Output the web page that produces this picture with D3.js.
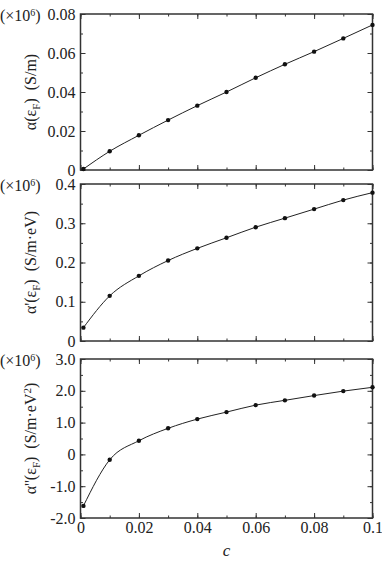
<!DOCTYPE html>
<html>
<head>
<meta charset="utf-8">
<script src="https://cdn.jsdelivr.net/npm/d3@7"></script>
<style>
  body { margin: 0; background: #fff; }
  svg { display: block; }
  svg text { font-family: "Liberation Serif", "Times New Roman", Times, serif; fill: #222; }
</style>
</head>
<body>
<div id="chart"></div>
<script>
const WIDTH = 382;
const HEIGHT = 563;
const SERIF = "'Liberation Serif', 'Times New Roman', Times, serif";

// data
const cValues = [0.001, 0.01, 0.02, 0.03, 0.04, 0.05, 0.06, 0.07, 0.08, 0.09, 0.1];
const alphaVals  = [0.0005, 0.0096, 0.0178, 0.0256, 0.033, 0.040, 0.0473, 0.0542, 0.0607, 0.0675, 0.0744];
const alpha1Vals = [0.034, 0.115, 0.166, 0.205, 0.236, 0.263, 0.290, 0.313, 0.336, 0.359, 0.378];
const alpha2Vals = [-1.62, -0.17, 0.43, 0.82, 1.11, 1.33, 1.55, 1.70, 1.85, 1.99, 2.11];

const xTicks = [0, 0.02, 0.04, 0.06, 0.08, 0.1];
const xTickLabels = ["0", "0.02", "0.04", "0.06", "0.08", "0.1"];
const y1Ticks = [0, 0.02, 0.04, 0.06, 0.08];
const y1TickLabels = ["0", "0.02", "0.04", "0.06", "0.08"];
const y2Ticks = [0, 0.1, 0.2, 0.3, 0.4];
const y2TickLabels = ["0", "0.1", "0.2", "0.3", "0.4"];
const y3Ticks = [-2, -1, 0, 1, 2, 3];
const y3TickLabels = ["-2.0", "-1.0", "0", "1.0", "2.0", "3.0"];

const LEFT = 80.5, RIGHT = 372.5;
const MAJOR = 5, MINOR = 2.5;
const SP = "\u00a0\u00a0";

const svg = d3.select("#chart")
    .append("svg")
    .attr("width", WIDTH)
    .attr("height", HEIGHT);

const x = d3.scaleLinear().domain([0, 0.1]).range([LEFT, RIGHT]);

const panels = [
  { top: 14,  bottom: 170, domain: [0, 0.08], ticks: y1Ticks, labels: y1TickLabels, minor: 0.01, values: alphaVals,
    label: [["α(ε"], ["F", "sub"], [")" + SP + "(S/m)"]] },
  { top: 184, bottom: 341, domain: [0, 0.4], ticks: y2Ticks, labels: y2TickLabels, minor: 0.05, values: alpha1Vals,
    label: [["α'(ε"], ["F", "sub"], [")" + SP + "(S/m·eV)"]] },
  { top: 359, bottom: 518, domain: [-2, 3], ticks: y3Ticks, labels: y3TickLabels, minor: 0.5, values: alpha2Vals,
    label: [["α''(ε"], ["F", "sub"], [")" + SP + "(S/m·eV"], ["2", "sup"], [")"]] }
];

const xMinor = d3.range(0, 0.1001, 0.01);

panels.forEach((p, idx) => {
  const y = d3.scaleLinear().domain(p.domain).range([p.bottom, p.top]);
  const g = svg.append("g").attr("font-family", SERIF);
  const yMinor = d3.range(p.domain[0], p.domain[1] + 1e-9, p.minor);

  // minor ticks on all four sides
  const minorAxes = [
    [d3.axisLeft(y).tickValues(yMinor), `translate(${LEFT},0)`],
    [d3.axisRight(y).tickValues(yMinor), `translate(${RIGHT},0)`],
    [d3.axisBottom(x).tickValues(xMinor), `translate(0,${p.bottom})`],
    [d3.axisTop(x).tickValues(xMinor), `translate(0,${p.top})`]
  ];
  minorAxes.forEach(([ax, tr]) => {
    g.append("g").attr("transform", tr)
      .call(ax.tickSize(-MINOR).tickFormat(""))
      .call(s => s.select(".domain").remove());
  });

  // major ticks
  g.append("g").attr("transform", `translate(${LEFT},0)`)
    .call(d3.axisLeft(y).tickValues(p.ticks).tickSize(-MAJOR).tickPadding(5)
      .tickFormat((d, i) => p.labels[i]))
    .attr("font-family", SERIF).attr("font-size", 16)
    .call(s => s.select(".domain").remove())
    .call(s => s.selectAll("text").attr("fill", "#222"));
  g.append("g").attr("transform", `translate(${RIGHT},0)`)
    .call(d3.axisRight(y).tickValues(p.ticks).tickSize(-MAJOR).tickFormat(""))
    .call(s => s.select(".domain").remove());
  g.append("g").attr("transform", `translate(0,${p.top})`)
    .call(d3.axisTop(x).tickValues(xTicks).tickSize(-MAJOR).tickFormat(""))
    .call(s => s.select(".domain").remove());
  g.append("g").attr("transform", `translate(0,${p.bottom})`)
    .call(d3.axisBottom(x).tickValues(xTicks).tickSize(-MAJOR).tickPadding(4)
      .tickFormat((d, i) => idx === 2 ? xTickLabels[i] : ""))
    .attr("font-family", SERIF).attr("font-size", 16)
    .call(s => s.select(".domain").remove())
    .call(s => s.selectAll("text").attr("fill", "#222"));

  g.selectAll(".tick line").attr("stroke", "#333").attr("stroke-width", 1);

  // frame
  g.append("rect")
    .attr("x", LEFT).attr("y", p.top)
    .attr("width", RIGHT - LEFT).attr("height", p.bottom - p.top)
    .attr("fill", "none").attr("stroke", "#333").attr("stroke-width", 1.5);

  // curve and points
  const pts = cValues.map((c, i) => [c, p.values[i]]);
  g.append("path")
    .datum(pts)
    .attr("fill", "none")
    .attr("stroke", "#222")
    .attr("stroke-width", 1)
    .attr("d", d3.line().x(d => x(d[0])).y(d => y(d[1])).curve(d3.curveMonotoneX));
  g.selectAll("circle")
    .data(pts)
    .enter()
    .append("circle")
    .attr("cx", d => x(d[0]))
    .attr("cy", d => y(d[1]))
    .attr("r", 2.2)
    .attr("fill", "#111");

  // (x10^6) marker
  const m = g.append("text")
    .attr("x", 0).attr("y", p.top + 6.5)
    .attr("font-size", 16);
  m.append("tspan").text("(×10");
  m.append("tspan").text("6").attr("font-size", 10).attr("dy", -5);
  m.append("tspan").text(")").attr("dy", 5);

  // y-axis label
  const cy = (p.top + p.bottom) / 2;
  const lab = g.append("text")
    .attr("transform", `translate(36,${cy}) rotate(-90)`)
    .attr("text-anchor", "middle")
    .attr("font-size", 16);
  let shift = 0;
  p.label.forEach(([t, kind]) => {
    const ts = lab.append("tspan").text(t);
    if (kind === "sub") { ts.attr("font-size", 11).attr("dy", 4 - shift); shift = 4; }
    else if (kind === "sup") { ts.attr("font-size", 11).attr("dy", -5 - shift); shift = -5; }
    else { ts.attr("dy", -shift); shift = 0; }
  });
});

svg.append("text")
  .attr("x", (LEFT + RIGHT) / 2)
  .attr("y", 556)
  .attr("text-anchor", "middle")
  .attr("font-family", SERIF)
  .attr("font-size", 17)
  .attr("font-style", "italic")
  .text("c");
</script>
</body>
</html>
